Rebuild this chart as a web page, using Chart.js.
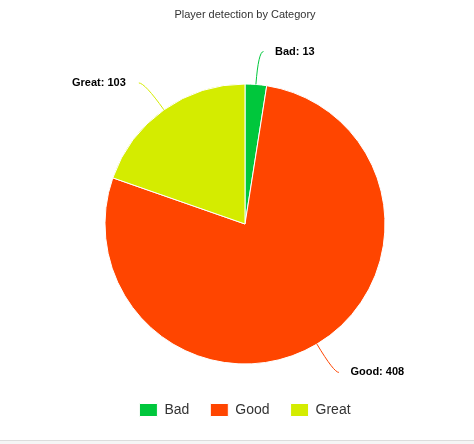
<!DOCTYPE html>
<html>
<head>
<meta charset="utf-8">
<script src="https://cdn.jsdelivr.net/npm/chart.js@4/dist/chart.umd.min.js"></script>
<style>
  html, body { margin: 0; padding: 0; background: #f5f5f5; }
  #wrap { width: 474px; height: 440px; background: #fff; border-bottom: 1px solid #dcdcdc; position: relative; }
  canvas { display: block; }
</style>
</head>
<body>
<div id="wrap"><canvas id="c" width="474" height="440"></canvas></div>
<script>
const categories = ["Bad", "Good", "Great"];
const counts = [13, 408, 103];
const sliceColors = ["#00c73c", "#ff4500", "#d4ec00"];
const chartTitle = "Player detection by Category";

const labelPlugin = {
  id: 'sliceLabels',
  afterDatasetsDraw(chart) {
    const ctx = chart.ctx;
    const meta = chart.getDatasetMeta(0);
    const dist = 33;
    ctx.save();
    ctx.font = 'bold 11px "Liberation Sans", Arial, sans-serif';
    ctx.textBaseline = 'middle';
    meta.data.forEach((arc, i) => {
      const p = arc.getProps(['x', 'y', 'startAngle', 'endAngle', 'outerRadius'], true);
      const mid = (p.startAngle + p.endAngle) / 2;
      const cos = Math.cos(mid), sin = Math.sin(mid);
      const sx = p.x + p.outerRadius * cos, sy = p.y + p.outerRadius * sin;
      const bx = p.x + (p.outerRadius + dist) * cos, by = p.y + (p.outerRadius + dist) * sin;
      const right = cos >= 0;
      const ex = right ? bx + 5 : bx - 6;
      const tx = right ? bx + 16.5 : bx - 19;
      ctx.strokeStyle = sliceColors[i];
      ctx.lineWidth = 1;
      ctx.beginPath();
      ctx.moveTo(sx, sy);
      ctx.quadraticCurveTo(bx, by, ex, by);
      ctx.stroke();
      ctx.fillStyle = '#000';
      ctx.textAlign = right ? 'left' : 'right';
      ctx.fillText(categories[i] + ': ' + counts[i], tx, by);
    });
    ctx.restore();
  }
};

new Chart(document.getElementById('c'), {
  type: 'pie',
  data: {
    labels: categories,
    datasets: [{
      data: counts,
      backgroundColor: sliceColors,
      borderColor: '#ffffff',
      borderWidth: 1,
      radius: 140
    }]
  },
  options: {
    responsive: false,
    animation: false,
    layout: { padding: { left: 16, right: 0, top: 0, bottom: 13 } },
    plugins: {
      title: {
        display: true,
        text: chartTitle,
        color: '#333333',
        font: { family: '"Liberation Sans", Arial, sans-serif', size: 11, weight: 'normal' },
        padding: { top: 8, bottom: 44.8 }
      },
      legend: {
        position: 'bottom',
        labels: {
          boxWidth: 18,
          boxHeight: 13,
          padding: 21,
          color: '#333333',
          font: { family: '"Liberation Sans", Arial, sans-serif', size: 14 }
        }
      },
      tooltip: { enabled: false }
    }
  },
  plugins: [labelPlugin]
});
</script>
</body>
</html>
